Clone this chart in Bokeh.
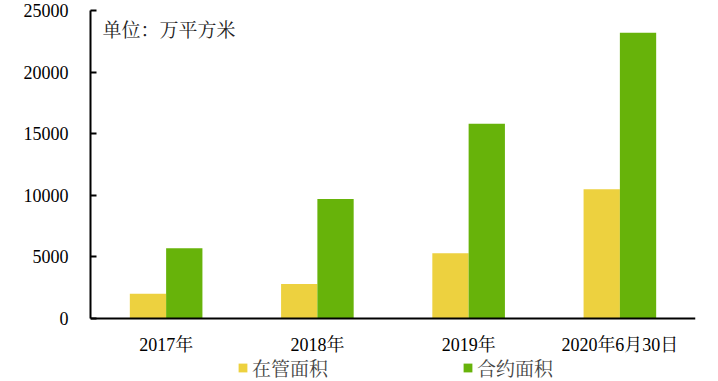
from bokeh.plotting import figure
from bokeh.models import FactorRange, Range1d, FixedTicker, Legend, LegendItem, Label, ColumnDataSource
from bokeh.transform import dodge
from bokeh.embed import file_html
from bokeh.resources import INLINE

categories = ["2017年", "2018年", "2019年", "2020年6月30日"]
managed = [2000, 2800, 5300, 10500]
contracted = [5700, 9700, 15800, 23200]
y_ticks = [0, 5000, 10000, 15000, 20000, 25000]
y_max = 25000
series_names = ["在管面积", "合约面积"]
unit_text = "单位：万平方米"

FONT = "'Liberation Serif', 'Noto Serif CJK SC', 'Noto Sans CJK SC', serif"
YELLOW = "#EDD13F"
GREEN = "#67B30A"

# layout (pixels)
W, H = 718, 381
FRAME_TOP, ZERO_Y = 10, 318
y_min = -y_max * (H - ZERO_Y) / (ZERO_Y - FRAME_TOP)

src = ColumnDataSource(dict(cat=categories, managed=managed, contracted=contracted))

p = figure(width=W, height=H, output_backend="svg", toolbar_location=None,
           x_range=FactorRange(factors=categories, range_padding=0),
           y_range=Range1d(y_min, y_max),
           min_border_left=90, min_border_right=23, min_border_top=FRAME_TOP, min_border_bottom=0)

r1 = p.vbar(x=dodge("cat", -0.12, range=p.x_range), top="managed", width=0.24, source=src,
            fill_color=YELLOW, line_color=None)
r2 = p.vbar(x=dodge("cat", 0.12, range=p.x_range), top="contracted", width=0.24, source=src,
            fill_color=GREEN, line_color=None)

p.outline_line_color = None
p.xgrid.visible = False
p.ygrid.visible = False

ya = p.yaxis[0]
ya.ticker = FixedTicker(ticks=y_ticks)
ya.bounds = (0, y_max)
ya.axis_line_width = 2
ya.axis_line_color = "black"
ya.major_tick_in = 6
ya.major_tick_out = 0
ya.major_tick_line_width = 2
ya.minor_tick_line_color = None
ya.major_label_standoff = 22
ya.major_label_text_font = FONT
ya.major_label_text_font_size = "18px"
ya.major_label_text_color = "black"

xa = p.xaxis[0]
xa.fixed_location = 0
xa.axis_line_width = 2
xa.axis_line_color = "black"
xa.major_tick_line_color = None
xa.minor_tick_line_color = None
xa.major_label_standoff = 10
xa.major_label_text_font = FONT
xa.major_label_text_font_size = "18px"
xa.major_label_text_color = "black"

p.add_layout(Label(x=0.079, y=23400, text=unit_text, text_font=FONT,
                   text_font_size="19px", text_baseline="middle", text_color="#222222"))

legend = Legend(items=[LegendItem(label=series_names[0], renderers=[r1]),
                       LegendItem(label=series_names[1], renderers=[r2])],
                location=(147, 0), orientation="horizontal",
                glyph_width=11, glyph_height=11, label_standoff=4, spacing=134,
                padding=0, margin=0, border_line_alpha=0, background_fill_alpha=0,
                label_text_font=FONT, label_text_font_size="19px", label_height=18)
p.add_layout(legend, "center")

open("out.html", "w").write(file_html(p, INLINE))
